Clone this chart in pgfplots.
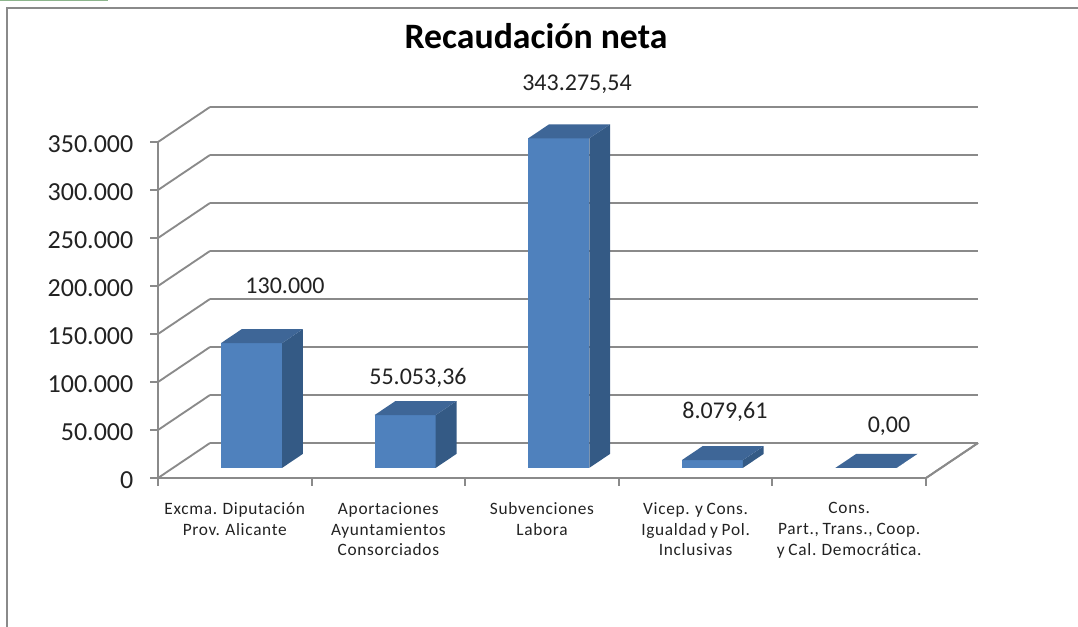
\documentclass[border=0pt]{standalone}
\usepackage{fontspec}
\setmainfont{Carlito}
\newfontfamily\labfont[LetterSpace=4,WordSpace=0.8]{Carlito}
\usepackage{pgfplots}
\pgfplotsset{compat=1.18}
\definecolor{barfront}{HTML}{4F81BD}
\definecolor{barside}{HTML}{345A85}
\definecolor{bartop}{HTML}{3E6697}
\definecolor{wallgray}{HTML}{8A8A8A}
\definecolor{txt}{HTML}{222222}
% one 3D bar: x start, x end, value (in thousands)
\newcommand{\dbar}[3]{%
  \addplot3[draw=none,fill=barfront] coordinates {(#1,0.29,0) (#2,0.29,0) (#2,0.29,#3) (#1,0.29,#3)} --cycle;
  \addplot3[draw=none,fill=barside] coordinates {(#2,0.29,0) (#2,0.69,0) (#2,0.69,#3) (#2,0.29,#3)} --cycle;
  \addplot3[draw=none,fill=bartop] coordinates {(#1,0.29,#3) (#2,0.29,#3) (#2,0.69,#3) (#1,0.69,#3)} --cycle;
}
\begin{document}
\begin{tikzpicture}
\path[use as bounding box] (0,0) rectangle (808.5pt,469.5pt);
\begin{axis}[
  at={(118.5pt,111pt)}, anchor=origin,
  x={(115.2pt,0pt)}, y={(39pt,26.25pt)}, z={(0pt,0.72pt)},
  xmin=0, xmax=5, ymin=0, ymax=1, zmin=0, zmax=350,
  axis lines=left,
  axis line style={wallgray,line width=1.4pt,-},
  clip=false,
  ytick=\empty,
  ztick={0,50,100,150,200,250,300,350},
  zticklabels={0,50.000,100.000,150.000,200.000,250.000,300.000,350.000},
  zmajorgrids=true,
  grid style={wallgray,line width=1.4pt},
  xtick={0.5,1.5,2.5,3.5,4.5},
  xticklabels={{Excma. Diputación\\Prov. Alicante},
    {Aportaciones\\Ayuntamientos\\Consorciados},
    {Subvenciones\\Labora},
    {Vicep. y Cons.\\Igualdad y Pol.\\Inclusivas},
    {Cons.\\Part., Trans., Coop.\\y Cal. Democrática.}},
  major tick length=0pt,
  xticklabel style={align=center,text=txt,font=\labfont\fontsize{13}{15.4}\selectfont,anchor=north,yshift=-15pt},
  zticklabel style={text=txt,font=\fontsize{19.5}{22}\selectfont,anchor=east,xshift=-15pt,yshift=-1.5pt},
]
% right edge of the floor
\addplot3[wallgray,line width=1.4pt] coordinates {(5,0,0) (5,1,0)};
% tick marks, square to the page: down from the x axis, left from the z axis
\pgfplotsinvokeforeach{0,1,2,3,4,5}{
  \addplot3[wallgray,line width=1.4pt] coordinates {(#1,0,-8) (#1,0,0)};
}
\pgfplotsinvokeforeach{0,50,100,150,200,250,300,350}{
  \addplot3[wallgray,line width=1.4pt] coordinates {(-0.052,0,#1) (0,0,#1)};
}
\dbar{0.3125}{0.71}{130}
\dbar{1.3125}{1.71}{55.05336}
\dbar{2.3125}{2.71}{343.27554}
\dbar{3.3125}{3.71}{8.07961}
\dbar{4.3125}{4.71}{0}
\end{axis}
\begin{scope}[x=0.75pt,y=-0.75pt,yshift=469.5pt]
  \draw[wallgray,line width=1.4pt] (7,640) -- (7,8) -- (1090,8);
  \fill[green!35!black!45] (0,0) rectangle (108,1.5);
  \node[text=black,font=\fontsize{26.8}{30}\selectfont\bfseries] at (536,36) {Recaudación neta};
  \foreach \px/\py/\t in {285/286/130.000,418/378/{55.053,36},577/84/{343.275,54},725/412/{8.079,61},889/426/{0,00}}
    \node[text=txt,font=\fontsize{18}{22}\selectfont] at (\px,\py) {\t};
\end{scope}
\end{tikzpicture}
\end{document}
